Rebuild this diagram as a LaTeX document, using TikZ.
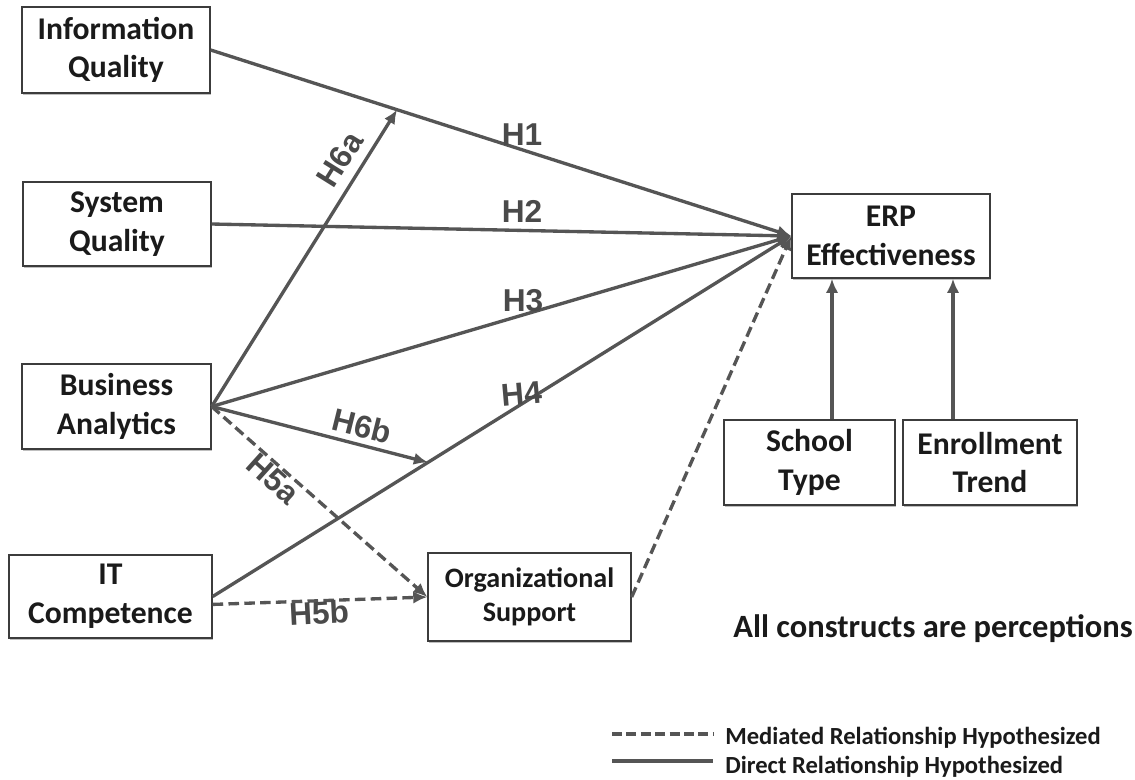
\documentclass[tikz,border=0pt]{standalone}
\usepackage{fontspec}
\setmainfont{Carlito}
\newfontfamily\labfont{Liberation Sans}
\usetikzlibrary{arrows.meta,shadows,calc}
\definecolor{linegray}{HTML}{555555}
\definecolor{boxborder}{HTML}{3C3C3C}
\definecolor{txt}{HTML}{1A1A1A}
\definecolor{labgray}{HTML}{4A4A4A}
\begin{document}
\begin{tikzpicture}[x=0.02cm,y=-0.02cm,
  box/.style={draw=boxborder, line width=0.8pt, fill=white, align=center,
    font=\fontsize{18}{22}\selectfont\bfseries, text=txt, inner sep=0pt,
    drop shadow={shadow xshift=0.8pt, shadow yshift=-1.2pt, fill=black, opacity=0.25}},
  conn/.style={draw=linegray, line width=1.9pt, -{Latex[length=8pt,width=7pt]}},
  med/.style={conn, dash pattern=on 6pt off 3pt},
  legsolid/.style={draw=linegray, line width=2.2pt},
  legdash/.style={legsolid, dash pattern=on 5.7pt off 2.5pt},
  hlab/.style={font=\labfont\fontsize{18}{21}\selectfont\bfseries, text=labgray, inner sep=0pt},
  legtext/.style={font=\fontsize{14}{17}\selectfont\bfseries, text=txt, inner sep=0pt, anchor=base west},
]
\fill[white] (0,0) rectangle (1135,779);
\useasboundingbox (0,0) rectangle (1135,779);

% boxes
\node[box, minimum width=3.76cm, minimum height=1.72cm] (iq) at (116,50) {Information\\Quality};
\node[box, minimum width=3.76cm, minimum height=1.68cm] (sq) at (117,224) {System\\Quality};
\node[box, minimum width=3.78cm, minimum height=1.70cm] (ba) at (116.5,406.5) {Business\\Analytics};
\node[box, minimum width=4.06cm, minimum height=1.66cm] (it) at (110.5,596.5) {IT\\Competence};
\node[box, minimum width=4.06cm, minimum height=1.76cm, font=\fontsize{16}{19.5}\selectfont\bfseries] (org) at (529.5,597) {Organizational\\Support};
\node[box, minimum width=3.96cm, minimum height=1.68cm] (erp) at (891,236) {ERP\\Effectiveness};
\node[box, minimum width=3.42cm, minimum height=1.70cm] (school) at (809.5,462.5) {School\\Type};
\node[box, minimum width=3.48cm, minimum height=1.70cm] (enroll) at (990,462.5) {Enrollment\\Trend};

% helper coordinates
\coordinate (h6aend) at ($(iq.east)!0.321!(erp.west)$);
\coordinate (h6bend) at ($(it.east)!0.372!(erp.west)$);
\coordinate (sx) at (832,0);
\coordinate (ex) at (953,0);

% direct paths
\draw[conn] (iq.east) -- (erp.west);
\draw[conn] (sq.east) -- (erp.west);
\draw[conn] (ba.east) -- (erp.west);
\draw[conn] (it.east) -- (erp.west);
\draw[conn] (ba.east) -- (h6aend);
\draw[conn] (ba.east) -- (h6bend);
\draw[conn] (school.north -| sx) -- (erp.south -| sx);
\draw[conn] (enroll.north -| ex) -- (erp.south -| ex);

% mediated paths
\draw[med] (ba.east) -- (org.west);
\draw[med] ([yshift=-4.5pt]it.east) -- (org.west);
\draw[med] (org.east) -- (erp.west);

% labels
\node[hlab] (l1) at (522,135) {H1};
\node[hlab] (l2) at (522,211.5) {H2};
\node[hlab] (l3) at (523,301) {H3};
\node[hlab, rotate=5] (l4) at (522,394) {H4};
\node[hlab, rotate=58] (l6a) at (340,159) {H6a};
\node[hlab, rotate=-14] (l6b) at (362,426) {H6b};
\node[hlab, rotate=-42] (l5a) at (273,479) {H5a};
\node[hlab, rotate=3] (l5b) at (319,613) {H5b};

% note
\node[anchor=base west, inner sep=0pt, font=\fontsize{18.5}{22}\selectfont\bfseries, text=txt] (note) at (733,637) {All constructs are perceptions};

% legend
\coordinate (lda) at (612,734);
\coordinate (ldb) at (713,734);
\coordinate (lsa) at (612,761);
\coordinate (lsb) at (713,761);
\draw[legdash] (lda) -- (ldb);
\draw[legsolid] (lsa) -- (lsb);
\node[legtext] (lt1) at (725,744) {Mediated Relationship Hypothesized};
\node[legtext] (lt2) at (725,773) {Direct Relationship Hypothesized};
\end{tikzpicture}
\end{document}
